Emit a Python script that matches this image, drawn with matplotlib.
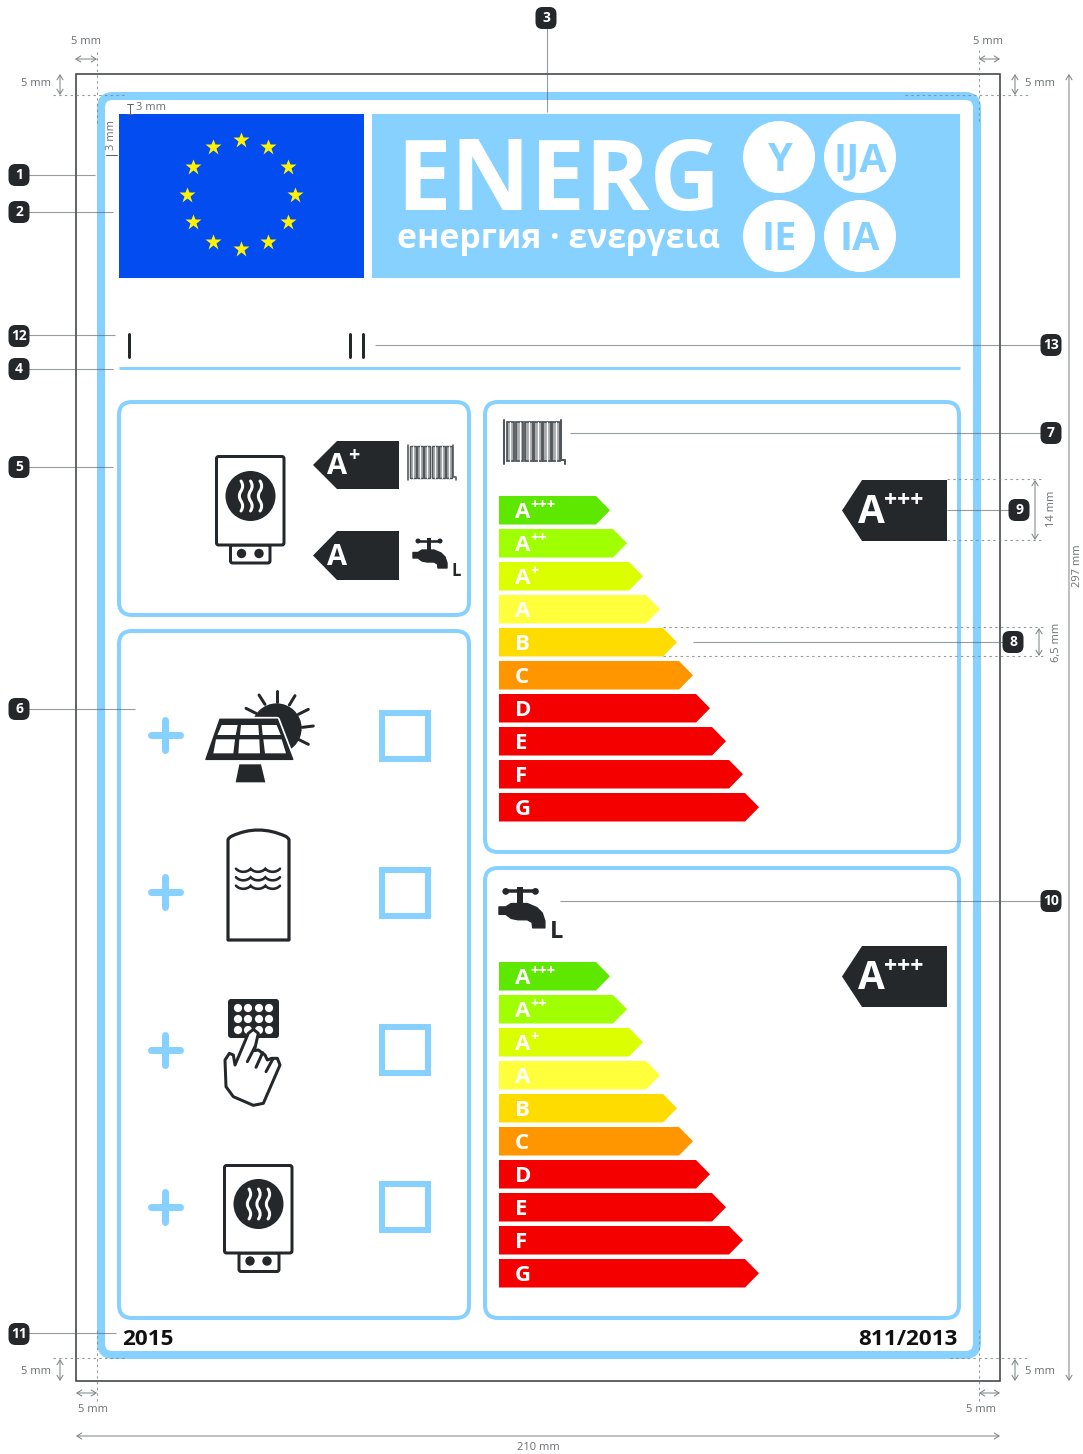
import matplotlib
matplotlib.use("Agg")
import matplotlib.pyplot as plt
from matplotlib.patches import FancyBboxPatch, Polygon, Circle, Rectangle, PathPatch
from matplotlib.path import Path

# ---------- data ----------
class_letters = ["A", "A", "A", "A", "B", "C", "D", "E", "F", "G"]
class_plus = ["+++", "++", "+", "", "", "", "", "", "", ""]
class_lengths = [111, 128, 144, 161, 178, 194, 211, 227, 244, 260]
class_colors = ["#5EE800", "#A0FF00", "#DCFF00", "#FFFF3C", "#FFDC00",
                "#FF9600", "#F50000", "#F50000", "#F50000", "#F50000"]
scale_tops = [496, 962]
indicator_tops = [480, 946]
banner_words = ["Y", "IJA", "IE", "IA"]
banner_xy = [(779, 157), (860, 157), (779, 236), (860, 236)]
star_x = [241.2, 267.5, 288.2, 295.2, 288.2, 268.2, 241.2, 213.2, 193.2, 186.5, 193.2, 213.2]
star_y = [140.2, 147.2, 167.2, 194.5, 222.2, 241.8, 248.8, 241.8, 222.2, 194.5, 167.2, 147.2]
row_centres = [735, 892, 1050, 1207]
box_tops = [710, 867, 1024, 1181]
badges = [("1", 19, 175), ("2", 19, 212), ("12", 19, 336), ("4", 19, 369), ("5", 19, 467),
          ("6", 19, 709), ("11", 19, 1334), ("3", 546, 18), ("13", 1051, 345),
          ("7", 1051, 433), ("9", 1019, 510), ("8", 1013, 642), ("10", 1051, 901)]
leaders = [(19, 95, 174.5), (19, 113, 212), (19, 115, 335), (19, 113, 369), (19, 113, 467),
           (19, 135, 709), (19, 116, 1333), (375, 1051, 345), (570, 1051, 433),
           (947, 1019, 510), (693, 1013, 642), (560, 1051, 901)]

BLUE = "#86D1FF"
DARK = "#24282A"
DIM = "#6B7073"
PX = 0.72
W, H = 1083, 1454
FONT = "Open Sans"

plt.rcParams["font.family"] = [FONT, "DejaVu Sans"]
fig = plt.figure(figsize=(W / 100, H / 100), dpi=100)
ax = fig.add_axes([0, 0, 1, 1])
ax.set_xlim(0, W)
ax.set_ylim(H, 0)
ax.axis("off")


def rbox(x0, y0, x1, y1, r, ec="none", fc="none", lw=0, z=2):
    p = FancyBboxPatch((x0, y0), x1 - x0, y1 - y0, boxstyle=f"round,pad=0,rounding_size={r}",
                       ec=ec, fc=fc, lw=lw * PX, zorder=z, joinstyle="round")
    ax.add_patch(p)
    return p


def line(xs, ys, c=DARK, lw=1.0, z=3, ls="-", alpha=1.0, cap="round"):
    ax.plot(xs, ys, color=c, lw=lw * PX, zorder=z, ls=ls, alpha=alpha,
            solid_capstyle=cap, dash_capstyle="butt")


def z2(x, y, ox=120, oy=400):
    return (x / 3 + ox, y / 3 + oy)


def dotted(xs, ys):
    ax.plot(xs, ys, color="#7C8285", lw=1.1 * PX, ls=(0, (2.2, 3.0)), zorder=8, alpha=0.8)


def dim_arrow(x0, y0, x1, y1):
    ax.annotate("", xy=(x1, y1), xytext=(x0, y0), zorder=8,
                arrowprops=dict(arrowstyle="<->,head_length=0.35,head_width=0.22",
                                color="#7C8285", lw=1.0 * PX, shrinkA=0, shrinkB=0))


def dim_text(x, y, s, rot=0, size=8):
    ax.text(x, y, s, ha="center", va="center", fontsize=size, color=DIM, rotation=rot, zorder=9)


def wave(x, y0, y1, c="white", lw=3.0, z=6, amp=2.2):
    """Vertical wavy stroke made of Bezier segments."""
    n = 3
    step = (y1 - y0) / n
    verts, codes = [(x, y0)], [Path.MOVETO]
    s = 1
    for i in range(n):
        a = y0 + i * step
        verts += [(x + s * amp, a + step / 3), (x + s * amp, a + 2 * step / 3), (x, a + step)]
        codes += [Path.CURVE4] * 3
        s = -s
    ax.add_patch(PathPatch(Path(verts, codes), fc="none", ec=c, lw=lw * PX, zorder=z, capstyle="round"))


def hwave(x0, x1, y, c=DARK, lw=2.6, z=6, amp=2.6, n=3):
    step = (x1 - x0) / n
    verts, codes = [(x0, y - amp / 2)], [Path.MOVETO]
    for i in range(n):
        a = x0 + i * step
        verts += [(a + step * .25, y + amp * 1.1), (a + step * .75, y + amp * 1.1), (a + step, y - amp / 2)]
        codes += [Path.CURVE4] * 3
    ax.add_patch(PathPatch(Path(verts, codes), fc="none", ec=c, lw=lw * PX, zorder=z, capstyle="round"))


def boiler(x0, y0, x1, y1, cx, cy, bx0, bx1, by1, dx0, dx1, dy):
    rbox(bx0, y1, bx1, by1, 2, ec=DARK, fc="white", lw=3, z=4)
    rbox(x0, y0, x1, y1, 2, ec=DARK, fc="white", lw=3, z=5)
    ax.add_patch(Circle((cx, cy), 25, fc=DARK, ec="none", zorder=6))
    for dx in (-9.5, 0, 9.5):
        wave(cx + dx, cy - 15, cy + 15, z=7)
    for dx in (dx0, dx1):
        ax.add_patch(Circle((dx, dy), 4.7, fc=DARK, ec="none", zorder=6))


def radiator(x0, y0, w, h):
    n = 6
    left = x0 + w * 0.03
    right = x0 + w * 0.93
    sw = (right - left) / n
    g = "#50565A"
    line([x0, x0], [y0, y0 + h], c=g, lw=max(1.2, w / 30), z=6)
    line([right, right, x0 + w, x0 + w], [y0, y0 + h * .92, y0 + h * .92, y0 + h],
         c=g, lw=max(1.2, w / 30), z=6)
    for i in range(n):
        a = left + i * sw
        ax.add_patch(Rectangle((a + sw * .08, y0 + h * .04), sw * .84, h * .9,
                               fc="#A9ADAF", ec=g, lw=max(0.9, w / 34) * PX, zorder=5))
        line([a + sw * .5, a + sw * .5], [y0 + h * .04, y0 + h * .94], c="white", lw=max(.8, w / 50), z=6)


def tap(x, y, k, lx, ly, lsize):
    def P(a, b):
        return (x + a * k, y + b * k)
    line([P(5, 4)[0], P(27, 4)[0]], [P(5, 4)[1], P(27, 4)[1]], lw=2.6 * k, z=5)
    for a in (5, 27):
        ax.add_patch(Circle(P(a, 4), 2.5 * k, fc=DARK, ec="none", zorder=5))
    ax.add_patch(Rectangle(P(13.5, 1), 4 * k, 13 * k, fc=DARK, ec="none", zorder=5))
    pts = [(0, 15.5), (5, 15.5), (9, 13), (21, 13), (28, 16), (32, 20), (34, 26), (34, 31),
           (25, 31), (24.5, 27), (21, 25), (14, 25), (9, 24), (5, 21), (0, 21)]
    ax.add_patch(Polygon([P(a, b) for a, b in pts], fc=DARK, ec=DARK, lw=1, zorder=5, joinstyle="round"))
    ax.text(lx, ly, "L", fontsize=lsize, fontweight="bold", color=DARK, ha="center", va="baseline", zorder=6)


def tag(tip, x1, x2, y0, y1, a_x, a_base, a_size, plus, p_x, p_y, p_size):
    ym = (y0 + y1) / 2
    ax.add_patch(Polygon([(tip, ym), (x1, y0), (x2, y0), (x2, y1), (x1, y1)], fc=DARK, ec="none", zorder=5))
    ax.text(a_x, a_base, "A", fontsize=a_size, fontweight="bold", color="white", ha="left", va="baseline", zorder=6)
    if plus:
        ax.text(p_x, p_y, plus, fontsize=p_size, fontweight="bold", color="white", ha="left", va="center", zorder=6)


# ---------- frame ----------
ax.add_patch(Rectangle((76, 74), 924, 1307, fc="none", ec="#3E4346", lw=1.6 * PX, zorder=7))
rbox(101, 96, 977, 1355, 12, ec=BLUE, lw=8, fc="white", z=2)

# ---------- header ----------
ax.add_patch(Rectangle((119, 114), 245, 164, fc="#034CF0", ec="none", zorder=3))
ax.plot(star_x, star_y, ls="none", marker="*", ms=16.5 * PX, mfc="#FFF200", mec="none", zorder=4)
ax.add_patch(Rectangle((372, 114), 588, 164, fc=BLUE, ec="none", zorder=3))
ax.text(396, 210, "ENERG", fontsize=70.5, fontweight="bold", color="white", ha="left", va="baseline", zorder=4)
ax.text(397, 248, "енергия · ενεργεια", fontsize=24.4, fontweight="bold", color="white",
        ha="left", va="baseline", zorder=4)
for word, (cx, cy) in zip(banner_words, banner_xy):
    ax.add_patch(Circle((cx, cy), 36, fc="white", ec="none", zorder=4))
    ax.text(cx, cy + 14, word, fontsize=28.5, fontweight="bold", color=BLUE, ha="center", va="baseline", zorder=5)

for x in (128.5, 349.5, 363):
    line([x, x], [334, 357], lw=3, z=4)
line([119, 960], [368, 368], c=BLUE, lw=3, z=3, cap="butt")

# ---------- panels ----------
for x0, y0, x1, y1 in [(119, 402, 469, 615), (119, 631, 469, 1318), (485, 402, 959, 852), (485, 868, 959, 1318)]:
    rbox(x0, y0, x1, y1, 13, ec=BLUE, lw=4, z=3)

# top-left summary panel
boiler(216.5, 456.5, 284, 545, 250.5, 496, 230.5, 270, 563, 241.5, 259, 553.5)
tag(313, 337, 399, 441, 489, 327, 474, 21, "+", 348, 456, 14)
tag(313, 337, 399, 531, 580, 327, 565, 21, "", 0, 0, 0)
radiator(408, 445, 48, 35)
tap(413, 537, 1.0, 456, 576, 12)

# options panel
for yc, top in zip(row_centres, box_tops):
    line([165, 165], [yc - 15, yc + 15], c=BLUE, lw=7, z=4)
    line([151, 180], [yc, yc], c=BLUE, lw=7, z=4)
    ax.add_patch(Rectangle((382, top + 3), 46, 46, fc="none", ec=BLUE, lw=6 * PX, zorder=4))

# solar panel
ax.add_patch(Circle(z2(470, 985), 25, fc=DARK, ec="none", zorder=4))
sun_rays = [((470, 872), (470, 905)), ((417, 885), (435, 913)), ((525, 887), (508, 915)),
            ((378, 925), (408, 940)), ((565, 928), (535, 943)), ((580, 978), (547, 982)),
            ((565, 1033), (535, 1018))]
for a, b in sun_rays:
    pa, pb = z2(*a), z2(*b)
    line([pa[0], pb[0]], [pa[1], pb[1]], lw=3, z=4)
frame_pts = [z2(300, 958), z2(472, 958), z2(518, 1078), z2(258, 1078)]
ax.add_patch(Polygon(frame_pts, fc=DARK, ec="white", lw=5 * PX, zorder=5, joinstyle="round"))
ax.add_patch(Polygon(frame_pts, fc=DARK, ec=DARK, lw=1.5 * PX, zorder=5, joinstyle="round"))
cells = [[(305, 975), (353, 975), (347, 1005), (292, 1005)], [(363, 975), (415, 975), (417, 1005), (360, 1005)],
         [(425, 975), (470, 975), (482, 1005), (428, 1005)], [(288, 1018), (345, 1018), (340, 1060), (280, 1060)],
         [(358, 1018), (418, 1018), (420, 1060), (355, 1060)], [(430, 1018), (485, 1018), (498, 1060), (435, 1060)]]
for c in cells:
    ax.add_patch(Polygon([z2(*p) for p in c], fc="white", ec="none", zorder=6))
ax.add_patch(Polygon([z2(358, 1093), z2(423, 1093), z2(436, 1147), z2(347, 1147)], fc=DARK, ec="none", zorder=5))

# storage tank
tank = Path([(228, 940), (228, 840), (228, 838), (232, 836), (258, 824), (285, 836), (289, 838), (289, 840),
             (289, 940), (228, 940)],
            [Path.MOVETO, Path.LINETO, Path.CURVE3, Path.CURVE3, Path.CURVE3, Path.CURVE3, Path.CURVE3, Path.CURVE3,
             Path.LINETO, Path.CLOSEPOLY])
ax.add_patch(PathPatch(tank, fc="white", ec=DARK, lw=3.2 * PX, zorder=4, joinstyle="round"))
for y in (870, 878.5, 887):
    hwave(236, 280, y)

# keypad and hand
rbox(228, 999, 279, 1038, 3, fc=DARK, z=4)
for y in (1008, 1019, 1030):
    for x in (238, 248, 259, 269):
        ax.add_patch(Circle((x, y), 4.1, fc="white", ec="none", zorder=5))
hand = [(118, 700), (105, 720), (108, 800), (130, 830), (190, 856), (220, 850), (270, 735), (262, 715),
        (245, 715), (232, 720), (225, 705), (205, 690), (193, 692), (205, 640), (190, 628), (175, 640),
        (135, 735), (130, 705)]
ax.add_patch(Polygon([z2(x, y, 190, 820) for x, y in hand], fc="white", ec=DARK, lw=3 * PX, zorder=6, joinstyle="round"))
for a, b in [((172, 725), (195, 680)), ((198, 742), (218, 698)), ((228, 755), (248, 718))]:
    pa, pb = z2(*a, 190, 820), z2(*b, 190, 820)
    line([pa[0], pb[0]], [pa[1], pb[1]], lw=3, z=7)

# bottom boiler
boiler(224.5, 1165.5, 292, 1253, 258.5, 1204, 239, 279, 1271.5, 250, 267, 1261)

# ---------- energy scales ----------
for top, ind in zip(scale_tops, indicator_tops):
    for i, (let, plus, ln, col) in enumerate(zip(class_letters, class_plus, class_lengths, class_colors)):
        y0 = top + 33 * i
        y1 = y0 + 28.5
        x0, tip = 499, 499 + ln
        ax.add_patch(Polygon([(x0, y0), (tip - 14, y0), (tip, (y0 + y1) / 2), (tip - 14, y1), (x0, y1)],
                             fc=col, ec="none", zorder=4))
        ax.text(515, y0 + 22, let, fontsize=16, fontweight="bold", color="white", ha="left", va="baseline", zorder=5)
        if plus:
            ax.text(530, y0 + 9, plus, fontsize=10.5, fontweight="bold", color="white", ha="left", va="center", zorder=5)
    tag(842, 862, 947, ind, ind + 61, 858, ind + 43, 28, "+++", 884, ind + 21, 16.5)

radiator(504, 420, 61, 44)
tap(499, 886, 1.35, 557, 938, 17)

# ---------- footer ----------
ax.text(122, 1345, "2015", fontsize=16.2, fontweight="bold", color="#111", ha="left", va="baseline", zorder=6)
ax.text(958, 1345, "811/2013", fontsize=16.2, fontweight="bold", color="#111", ha="right", va="baseline", zorder=6)

# ---------- callouts ----------
for x0, x1, y in leaders:
    line([x0, x1], [y, y], c="#5F6568", lw=1.1, z=8, alpha=0.65, cap="butt")
line([547, 547], [18, 112], c="#5F6568", lw=1.1, z=8, alpha=0.65, cap="butt")
for s, x, y in badges:
    rbox(x - 10.5, y - 11, x + 10.5, y + 11, 7, fc=DARK, z=10)
    ax.text(x, y + 0.3, s, fontsize=10, fontweight="bold", color="white", ha="center", va="center", zorder=11)

# ---------- dimension marks ----------
for ys in (95,):
    dotted([53, 125], [ys, ys])
    dotted([905, 1030], [ys, ys])
dotted([97, 97], [52, 124])
dotted([979, 979], [50, 124])
dotted([53, 125], [1358, 1358])
dotted([950, 1030], [1358, 1358])
dotted([97, 97], [1330, 1402])
dotted([979, 979], [1330, 1402])
dotted([947, 1042], [479, 479])
dotted([947, 1042], [540, 540])
dotted([663, 1046], [627, 627])
dotted([663, 1046], [656, 656])

dim_arrow(75, 59, 97, 59); dim_text(86, 42, "5 mm")
dim_arrow(979, 59, 1000, 59); dim_text(988, 42, "5 mm")
dim_arrow(60, 74, 60, 95); dim_text(36, 84, "5 mm")
dim_arrow(1015, 74, 1015, 95); dim_text(1040, 84, "5 mm")
dim_arrow(60, 1359, 60, 1381); dim_text(36, 1372, "5 mm")
dim_arrow(1015, 1359, 1015, 1381); dim_text(1040, 1372, "5 mm")
dim_arrow(76, 1393, 97, 1393); dim_text(93, 1409, "5 mm")
dim_arrow(979, 1393, 1000, 1393); dim_text(981, 1409, "5 mm")
dim_arrow(1069, 74, 1069, 1381); dim_text(1078, 566, "297 mm", rot=90)
dim_arrow(76, 1436, 1000, 1436); dim_text(538, 1447, "210 mm")
dim_arrow(1035, 480, 1035, 540); dim_text(1052, 509, "14 mm", rot=90)
dim_arrow(1039, 628, 1039, 656); dim_text(1056, 642, "6,5 mm", rot=90)
line([130, 130], [104, 114], c="#5F6568", lw=1, z=8)
line([127, 133], [104, 104], c="#5F6568", lw=1, z=8)
line([127, 133], [114, 114], c="#5F6568", lw=1, z=8)
dim_text(151, 108, "3 mm")
line([106, 117], [155, 155], c="#5F6568", lw=1, z=8)
dim_text(112, 135, "3 mm", rot=90)

fig.savefig("out.png", dpi=100, facecolor="white")
